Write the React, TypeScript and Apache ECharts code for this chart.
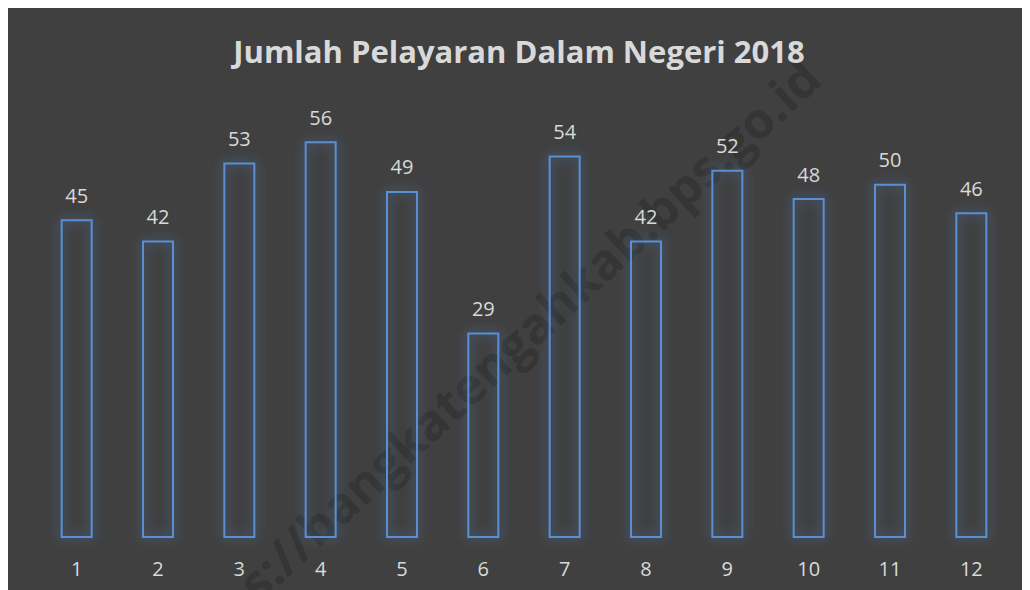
import React, { useEffect, useRef } from "react";
import * as echarts from "echarts";

const categories = ["1", "2", "3", "4", "5", "6", "7", "8", "9", "10", "11", "12"];
const values = [45, 42, 53, 56, 49, 29, 54, 42, 52, 48, 50, 46];
const titleText = "Jumlah Pelayaran Dalam Negeri 2018";
const watermark = "https://bangkatengahkab.bps.go.id";

export default function App() {
  const ref = useRef<HTMLDivElement>(null);
  useEffect(() => {
    if (!ref.current) return;
    const chart = echarts.init(ref.current, undefined, { renderer: "svg" });
    chart.setOption({
      animation: false,
      backgroundColor: "#404040",
      textStyle: { fontFamily: "Open Sans" },
      title: {
        text: titleText,
        left: "center",
        top: 22,
        textStyle: { color: "#d9d9d9", fontSize: 31, fontWeight: "bold", fontFamily: "Open Sans" },
      },
      graphic: [
        {
          type: "text",
          x: 481,
          y: 358,
          rotation: (42.7 * Math.PI) / 180,
          z: 0,
          silent: true,
          style: {
            text: watermark,
            fill: "#353535",
            font: "bold 50px 'Open Sans'",
            textAlign: "center",
            textVerticalAlign: "middle",
          },
        },
      ],
      grid: { left: 28, right: 18, top: 105, bottom: 52, containLabel: false },
      xAxis: {
        type: "category",
        data: categories,
        axisLine: { show: false },
        axisTick: { show: false },
        axisLabel: { color: "#d9d9d9", fontSize: 20, margin: 20, fontFamily: "Open Sans" },
      },
      yAxis: {
        type: "value",
        min: 0,
        max: 60,
        show: false,
        splitLine: { show: false },
      },
      series: [
        {
          type: "bar",
          data: values,
          barWidth: 32,
          z: 3,
          itemStyle: {
            color: "rgba(0,0,0,0)",
            borderColor: "#5a8fd4",
            borderWidth: 2,
            shadowBlur: 12,
            shadowColor: "rgba(79,129,189,0.95)",
          },
          label: {
            show: true,
            position: "top",
            distance: 14,
            color: "#d9d9d9",
            fontSize: 20,
            fontFamily: "Open Sans",
          },
        },
      ],
    });
    return () => chart.dispose();
  }, []);
  return (
    <div
      ref={ref}
      style={{ width: 1022, height: 582, outline: "1px solid #d0d0d0" }}
    />
  );
}
